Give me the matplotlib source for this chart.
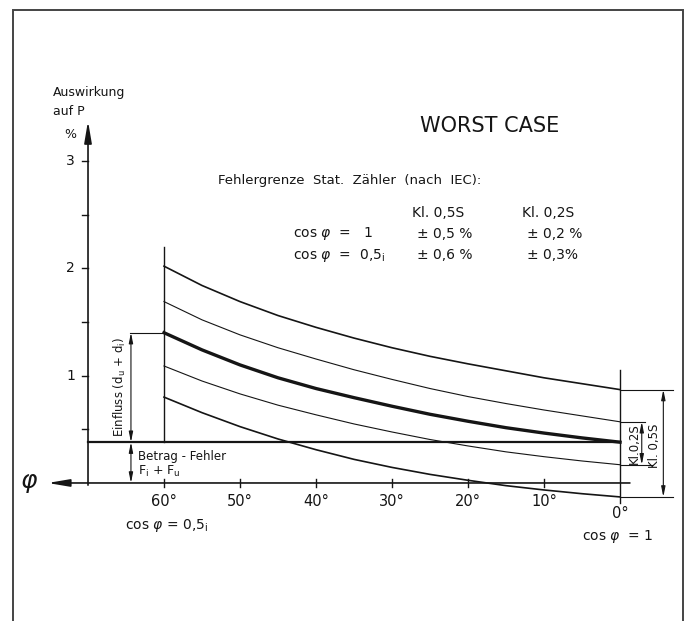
import matplotlib
matplotlib.use("Agg")
import matplotlib.pyplot as plt
from matplotlib.patches import Rectangle

# Winkel phi [Grad] und Auswirkung auf P [%]
phi = [60, 55, 50, 45, 40, 35, 30, 25, 20, 15, 10, 5, 0]
nominal = [1.40, 1.24, 1.10, 0.98, 0.88, 0.795, 0.715, 0.64, 0.575, 0.515, 0.465, 0.42, 0.38]    # dicke Kurve
upper_05 = [2.02, 1.84, 1.69, 1.56, 1.45, 1.35, 1.26, 1.18, 1.11, 1.045, 0.98, 0.925, 0.87]    # + Kl. 0,5S
upper_02 = [1.69, 1.52, 1.38, 1.26, 1.155, 1.055, 0.965, 0.88, 0.805, 0.74, 0.68, 0.625, 0.57]  # + Kl. 0,2S
lower_02 = [1.09, 0.95, 0.83, 0.725, 0.635, 0.55, 0.475, 0.405, 0.345, 0.29, 0.245, 0.205, 0.17]  # - Kl. 0,2S
lower_05 = [0.80, 0.655, 0.525, 0.41, 0.31, 0.22, 0.145, 0.08, 0.025, -0.025, -0.065, -0.10, -0.13]  # - Kl. 0,5S
betrag = 0.38  # Betrag-Fehler Fi + Fu

x_ticks = [60, 50, 40, 30, 20, 10]
x_labels = ['60°', '50°', '40°', '30°', '20°', '10°']
y_ticks = [0.5, 1, 1.5, 2, 2.5, 3]
y_labels = {1: '1', 2: '2', 3: '3'}

table_cols = ['Kl. 0,5S', 'Kl. 0,2S']
table_rows = ['cos $\\varphi$  =   1', 'cos $\\varphi$  =  0,5$_{\\mathrm{i}}$']
table_vals = [['± 0,5 %', '± 0,2 %'], ['± 0,6 %', '± 0,3%']]

plt.rcParams['font.family'] = ['DejaVu Sans']
plt.rcParams['mathtext.fontset'] = 'dejavusans'
ink = '#151515'

fig = plt.figure(figsize=(6.91, 6.21), dpi=100)
fig.patch.set_facecolor('white')
ax = fig.add_axes([0, 0, 1, 1])
ax.set_xlim(81.58, -9.34)
ax.set_ylim(-1.286, 4.5)
ax.axis('off')

# Rahmen
fig.patches.append(Rectangle((13 / 691, -0.1), 670 / 691, 0.1 + 611 / 621, transform=fig.transFigure,
                             fill=False, lw=1.4, ec='#444444'))

# Kurven
ax.plot(phi, upper_05, color=ink, lw=1.2)
ax.plot(phi, upper_02, color=ink, lw=0.8)
ax.plot(phi, nominal, color=ink, lw=2.4)
ax.plot(phi, lower_02, color=ink, lw=0.8)
ax.plot(phi, lower_05, color=ink, lw=1.2)

# Betrag-Fehler Linie
ax.plot([70, 0], [betrag, betrag], color=ink, lw=1.6)

# Achsen
ax.annotate('', xy=(75.3, 0), xytext=(-1.3, 0),
            arrowprops=dict(arrowstyle='-|>,head_length=1.3,head_width=0.22', lw=1.2, color=ink,
                            shrinkA=0, shrinkB=0, mutation_scale=10))
ax.annotate('', xy=(70, 3.373), xytext=(70, -0.02),
            arrowprops=dict(arrowstyle='-|>,head_length=1.3,head_width=0.22', lw=1.2, color=ink,
                            shrinkA=0, shrinkB=0, mutation_scale=10))
for t in y_ticks:
    ax.plot([70.8, 70], [t, t], color=ink, lw=1.0)
    if t in y_labels:
        ax.text(72.3, t, y_labels[t], ha='center', va='center', fontsize=10, color=ink)
for t, lab in zip(x_ticks, x_labels):
    ax.plot([t, t], [0.04, -0.04], color=ink, lw=1.0)
    ax.text(t, -0.175, lab, ha='center', va='center', fontsize=10.5, color=ink)
ax.text(0, -0.28, '0°', ha='center', va='center', fontsize=10.5, color=ink)
ax.text(77.8, 0, '$\\varphi$', ha='center', va='center', fontsize=18, color=ink)

# senkrechte Linien bei 60° und 0°
ax.plot([phi[0], phi[0]], [betrag, 2.2], color=ink, lw=1.0)
ax.plot([phi[-1], phi[-1]], [-0.19, 1.05], color=ink, lw=1.0)

# Bemaßung links
dim = dict(arrowstyle='<|-|>,head_length=0.6,head_width=0.12', lw=0.8, color=ink,
           shrinkA=0, shrinkB=0, mutation_scale=10)
ax.plot([64.5, phi[0]], [nominal[0], nominal[0]], color=ink, lw=0.8)
ax.annotate('', xy=(64.35, nominal[0]), xytext=(64.35, betrag), arrowprops=dim)
ax.annotate('', xy=(64.35, betrag), xytext=(64.35, 0), arrowprops=dim)
ax.text(65.8, (nominal[0] + betrag) / 2, 'Einfluss (d$_{\\mathrm{u}}$ + d$_{\\mathrm{i}}$)', rotation=90,
        ha='center', va='center', fontsize=8.5, color=ink)
ax.text(63.4, 0.245, 'Betrag - Fehler', ha='left', va='center', fontsize=8.5, color=ink)
ax.text(63.4, 0.105, 'F$_{\\mathrm{i}}$ + F$_{\\mathrm{u}}$', ha='left', va='center', fontsize=9, color=ink)

# Bemaßung rechts
ax.plot([0, -6.97], [upper_05[-1], upper_05[-1]], color=ink, lw=0.8)
ax.plot([0, -3.3], [upper_02[-1], upper_02[-1]], color=ink, lw=0.8)
ax.plot([0, -4.2], [lower_02[-1], lower_02[-1]], color=ink, lw=0.8)
ax.plot([0, -6.97], [lower_05[-1], lower_05[-1]], color=ink, lw=0.8)
ax.annotate('', xy=(-2.86, upper_02[-1]), xytext=(-2.86, lower_02[-1]), arrowprops=dim)
ax.annotate('', xy=(-5.7, upper_05[-1]), xytext=(-5.7, lower_05[-1]), arrowprops=dim)
ax.text(-1.85, (upper_02[-1] + lower_02[-1]) / 2, 'Kl.0,2S', rotation=90, ha='center', va='center',
        fontsize=8.5, color=ink)
ax.text(-4.6, 0.35, 'Kl. 0,5S', rotation=90, ha='center', va='center', fontsize=8.5, color=ink)

# Beschriftungen
ax.text(59.6, -0.40, 'cos $\\varphi$ = 0,5$_{\\mathrm{i}}$', ha='center', va='center', fontsize=10, color=ink)
ax.text(0.3, -0.50, 'cos $\\varphi$  = 1', ha='center', va='center', fontsize=10, color=ink)
ax.text(74.6, 3.64, 'Auswirkung', ha='left', va='center', fontsize=9, color=ink)
ax.text(74.6, 3.457, 'auf P', ha='left', va='center', fontsize=9, color=ink)
ax.text(72.4, 3.25, '%', ha='center', va='center', fontsize=9, color=ink)
ax.text(17.2, 3.326, 'WORST CASE', ha='center', va='center', fontsize=15, color=ink)
ax.text(52.9, 2.814, 'Fehlergrenze  Stat.  Zähler  (nach  IEC):', ha='left', va='center',
        fontsize=9.5, color=ink)
for j, col in enumerate(table_cols):
    ax.text([27.4, 12.9][j], 2.516, col, ha='left', va='center', fontsize=10, color=ink)
for i, row in enumerate(table_rows):
    yy = [2.32, 2.12][i]
    ax.text(43.0, yy, row, ha='left', va='center', fontsize=10, color=ink)
    for j, val in enumerate(table_vals[i]):
        ax.text([26.7, 12.2][j], yy, val, ha='left', va='center', fontsize=10, color=ink)

fig.savefig('out.png', dpi=100, facecolor='white')
